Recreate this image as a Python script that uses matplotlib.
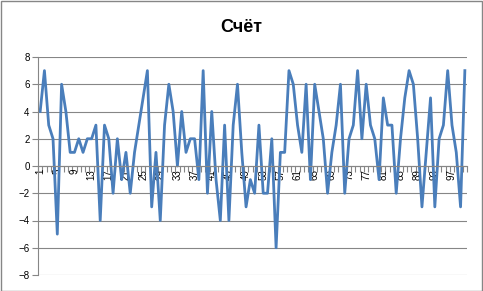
import matplotlib
matplotlib.use('Agg')
import matplotlib.pyplot as plt
from matplotlib.patches import Rectangle
import numpy as np

# data
title = 'Счёт'
score = [4, 7, 3, 2, -5, 6, 4, 1, 1, 2,
         1, 2, 2, 3, -4, 3, 2, -2, 2, -1,
         1, -2, 1, 3, 5, 7, -3, 1, -4, 3,
         6, 4, 0, 4, 1, 2, 2, -1, 7, -2,
         4, -1, -4, 3, -4, 3, 6, 1, -3, -1,
         -2, 3, -2, -2, 2, -6, 1, 1, 7, 6,
         3, 1, 6, -1, 6, 4, 2, -2, 1, 3,
         6, -2, 2, 3, 7, 2, 6, 3, 2, -1,
         5, 3, 3, -2, 2, 5, 7, 6, 2, -3,
         1, 5, -3, 2, 3, 7, 3, 1, -3, 7]
x_labels = list(range(1, 101, 4))
y_ticks = list(range(-8, 9, 2))

plt.rcParams['font.family'] = ['Liberation Sans', 'DejaVu Sans']

fig = plt.figure(figsize=(4.83, 2.91), dpi=100)
ax = fig.add_axes([38 / 483, 16 / 291, 429 / 483, 218 / 291])

x = np.arange(1, len(score) + 1)
ax.plot(x, score, color='#4A7EBB', linewidth=2.0, solid_joinstyle='round')

ax.set_xlim(0.5, len(score) + 0.5)
ax.set_ylim(-8, 8)

# gridlines and axis styling in the Excel look
grid_col = '#868686'
ax.set_yticks(y_ticks)
ax.yaxis.grid(True, color=grid_col, linewidth=0.8)
ax.set_axisbelow(True)
ax.tick_params(axis='y', labelsize=7, color=grid_col, length=4, pad=2)

for s in ['top', 'right']:
    ax.spines[s].set_visible(False)
ax.spines['left'].set_color(grid_col)
ax.spines['bottom'].set_position(('data', 0))
ax.spines['bottom'].set_color(grid_col)

# tick marks between categories, labels every 4th category
ax.set_xticks(np.arange(0.5, len(score) + 1, 1.0))
ax.set_xticklabels([])
ax.tick_params(axis='x', which='major', color=grid_col, length=4, direction='out')
ax.set_xticks(x_labels, minor=True)
ax.set_xticklabels([str(v) for v in x_labels], minor=True, rotation=90)
ax.tick_params(axis='x', which='minor', length=0, labelsize=7, pad=2)

fig.text(0.5, 1 - 27 / 291, title, ha='center', va='center',
         fontsize=13, fontweight='bold')

# chart border
fig.patches.append(Rectangle((0.5 / 483, 0.5 / 291), 481.5 / 483, 289.5 / 291,
                             transform=fig.transFigure, fill=False,
                             edgecolor='#868686', linewidth=1))

fig.savefig('out.png', dpi=100)
